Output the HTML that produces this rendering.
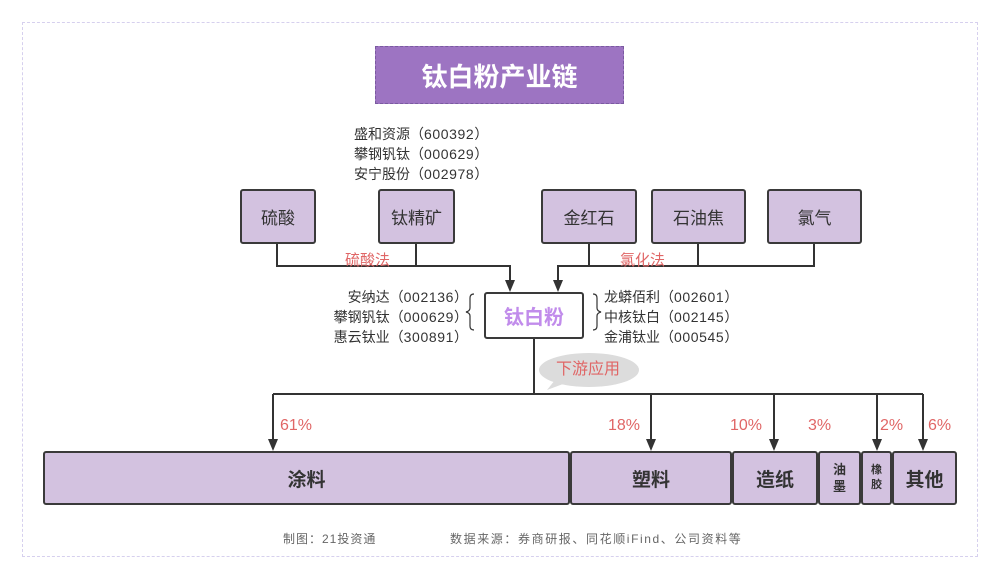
<!DOCTYPE html>
<html><head><meta charset="utf-8"><style>
body{margin:0;width:999px;height:583px;background:#fff;position:relative;overflow:hidden;font-family:"Liberation Sans","Noto Sans CJK SC",sans-serif;}
.a{position:absolute;}
.box{position:absolute;background:#d3c2e0;border:2px solid #3a3a3a;border-radius:3px;box-sizing:border-box;display:flex;align-items:center;justify-content:center;color:#333;}
.t{position:absolute;font-size:14px;color:#333;white-space:nowrap;line-height:20px;}
.t div{height:20px;}
.m{letter-spacing:0.6px;}
.pct{position:absolute;color:#e06666;font-size:16px;}
</style></head><body>
<div class="a" style="left:22px;top:22px;width:954px;height:533px;border:1.5px dashed #d6d0ee;"></div>
<div class="a" style="left:375px;top:46px;width:249px;height:58px;background:#9d74c2;border:1.5px dashed #7a5aa0;box-sizing:border-box;color:#fff;font-size:26px;font-weight:bold;display:flex;align-items:center;justify-content:center;">钛白粉产业链</div>

<div class="t" style="left:354px;top:124px;"><div>盛和资源（<span class="m">600392</span>）</div><div>攀钢钒钛（<span class="m">000629</span>）</div><div>安宁股份（<span class="m">002978</span>）</div></div>

<div class="box" style="left:240px;top:189px;width:76px;height:55px;font-size:17px;">硫酸</div>
<div class="box" style="left:378px;top:189px;width:77px;height:55px;font-size:17px;">钛精矿</div>
<div class="box" style="left:541px;top:189px;width:96px;height:55px;font-size:17px;">金红石</div>
<div class="box" style="left:651px;top:189px;width:95px;height:55px;font-size:17px;">石油焦</div>
<div class="box" style="left:767px;top:189px;width:95px;height:55px;font-size:17px;">氯气</div>

<svg class="a" style="left:0;top:0" width="999" height="583">
<g stroke="#333" stroke-width="2" fill="none">
<path d="M277 244V266H510V285"/><path d="M416 244V266"/>
<path d="M814 244V266H558V285"/><path d="M589 244V266"/><path d="M698 244V266"/>
<path d="M534 338V394"/><path d="M273 394H923"/>
<path d="M273 394V444"/><path d="M651 394V444"/><path d="M774 394V444"/><path d="M877 394V444"/><path d="M923 394V444"/>
</g>
<g fill="#333">
<path d="M505 280h10l-5 12z"/><path d="M553 280h10l-5 12z"/>
<path d="M268 439h10l-5 12z"/><path d="M646 439h10l-5 12z"/><path d="M769 439h10l-5 12z"/><path d="M872 439h10l-5 12z"/><path d="M918 439h10l-5 12z"/>
</g>
<path d="M474 294q-4 0-4 4v10q0 3-4 4q4 1 4 4v10q0 4 4 4" stroke="#333" stroke-width="1.2" fill="none"/>
<path d="M593 294q4 0 4 4v10q0 3 4 4q-4 1-4 4v10q0 4-4 4" stroke="#333" stroke-width="1.2" fill="none"/>
<ellipse cx="589" cy="370" rx="50" ry="17" fill="#dcdcdc"/>
<path d="M555 380l-8 10 16-6z" fill="#dcdcdc"/>
</svg>
<div class="t" style="left:345px;top:251px;color:#e06666;font-size:15px;">硫酸法</div>
<div class="t" style="left:620px;top:251px;color:#e06666;font-size:15px;">氯化法</div>

<div class="a" style="left:484px;top:292px;width:100px;height:47px;border:2px solid #3a3a3a;border-radius:3px;box-sizing:border-box;background:#fff;color:#c18ceb;font-size:20px;font-weight:bold;display:flex;align-items:center;justify-content:center;">钛白粉</div>
<div class="t" style="left:320px;top:287px;text-align:right;width:148px;"><div>安纳达（<span class="m">002136</span>）</div><div>攀钢钒钛（<span class="m">000629</span>）</div><div>惠云钛业（<span class="m">300891</span>）</div></div>
<div class="t" style="left:604px;top:287px;"><div>龙蟒佰利（<span class="m">002601</span>）</div><div>中核钛白（<span class="m">002145</span>）</div><div>金浦钛业（<span class="m">000545</span>）</div></div>
<div class="t" style="left:556px;top:360px;color:#e06666;font-size:16px;">下游应用</div>

<div class="pct" style="left:280px;top:417px;">61%</div>
<div class="pct" style="left:608px;top:417px;">18%</div>
<div class="pct" style="left:730px;top:417px;">10%</div>
<div class="pct" style="left:808px;top:417px;">3%</div>
<div class="pct" style="left:880px;top:417px;">2%</div>
<div class="pct" style="left:928px;top:417px;">6%</div>

<div class="box" style="left:43px;top:451px;width:527px;height:54px;font-size:19px;font-weight:bold;">涂料</div>
<div class="box" style="left:570px;top:451px;width:162px;height:54px;font-size:19px;font-weight:bold;">塑料</div>
<div class="box" style="left:732px;top:451px;width:86px;height:54px;font-size:19px;font-weight:bold;">造纸</div>
<div class="box" style="left:818px;top:451px;width:43px;height:54px;font-size:13px;font-weight:bold;line-height:17px;text-align:center;">油<br>墨</div>
<div class="box" style="left:861px;top:451px;width:31px;height:54px;font-size:11px;font-weight:bold;line-height:15px;text-align:center;">橡<br>胶</div>
<div class="box" style="left:892px;top:451px;width:65px;height:54px;font-size:19px;font-weight:bold;">其他</div>

<div class="t" style="left:283px;top:529px;font-size:12px;color:#666;letter-spacing:1px;">制图：21投资通</div>
<div class="t" style="left:450px;top:529px;font-size:12px;color:#666;letter-spacing:1.6px;">数据来源：券商研报、同花顺iFind、公司资料等</div>
</body></html>
